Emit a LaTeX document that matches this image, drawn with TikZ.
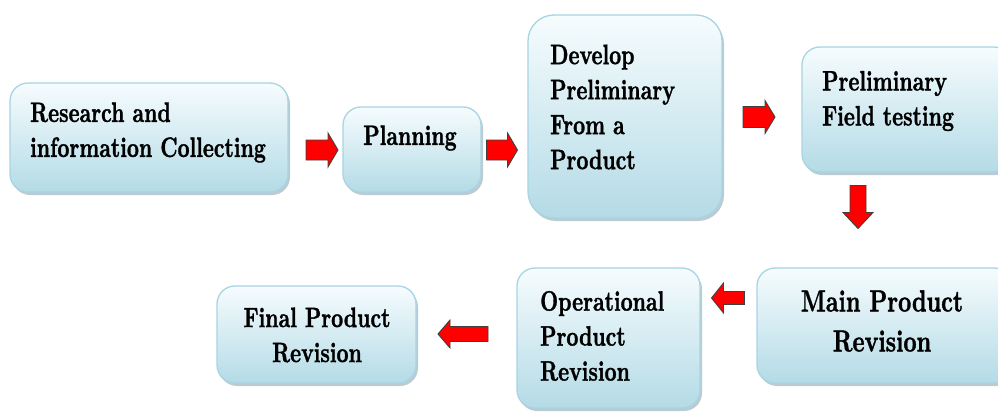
\documentclass[tikz,border=0pt]{standalone}
\usepackage{fontspec}
\newfontfamily\hfont{lmroman10-bold.otf}[FakeBold=1.4]
\usetikzlibrary{shadows}
\tikzset{
  box/.style={draw=boxline, line width=1.3pt, rounded corners=18pt,
    top color=boxtop, bottom color=boxbot, inner sep=0pt,
    drop shadow={shadow xshift=2pt, shadow yshift=-3pt, fill=shadowc, opacity=0.7}},
  txt/.style={font={\hfont\fontsize{28}{35}\selectfont}, inner sep=0pt, text=black,
    xscale=0.745, transform shape},
  bigtxt/.style={font={\hfont\fontsize{30.5}{40}\selectfont}, inner sep=0pt, text=black,
    xscale=0.75, transform shape},
  barrow/.style={fill=arrred, draw=black!75, line width=0.9pt, line join=miter}
}
\definecolor{boxline}{HTML}{A8D4E3}
\definecolor{boxtop}{HTML}{F6FCFE}
\definecolor{boxbot}{HTML}{B4DBE6}
\definecolor{shadowc}{HTML}{9FB5BE}
\definecolor{arrred}{HTML}{FF0000}
% #1 center, #2 rotation, #3 length, #4 shaft, #5 head width, #6 head length
\newcommand\blockarr[6]{%
  \begin{scope}[shift={#1}, rotate=#2]
    \draw[barrow] (-#3/2,-#4/2) -- (#3/2-#6,-#4/2) -- (#3/2-#6,-#5/2) -- (#3/2,0)
      -- (#3/2-#6,#5/2) -- (#3/2-#6,#4/2) -- (-#3/2,#4/2) -- cycle;
  \end{scope}}
\begin{document}
\begin{tikzpicture}[x=1pt, y=-1pt]
\useasboundingbox (0,0) rectangle (998,412);
% boxes
\node[box, minimum width=278pt, minimum height=109pt] (b1) at (149,137.5) {};
\node[box, minimum width=138pt, minimum height=85pt] (b2) at (412,149.5) {};
\node[box, minimum width=194pt, minimum height=203pt, rounded corners=26pt] (b3) at (625,116.5) {};
\node[box, minimum width=210pt, minimum height=125pt] (b4) at (907,109.5) {};
\node[box, minimum width=255pt, minimum height=115pt] (b5) at (884.5,325.5) {};
\node[box, minimum width=183pt, minimum height=140pt] (b6) at (608.5,338) {};
\node[box, minimum width=199pt, minimum height=97pt] (b7) at (316.5,334.5) {};
% texts
\node[txt, align=left, anchor=west] (t1) at (30,132.5) {Research and\\information Collecting};
\node[txt] (t2) at (410,138) {Planning};
\node[txt, align=left, anchor=west] (t3) at (550,107) {Develop\\Preliminary\\From a\\Product};
\node[txt, align=left, anchor=west] (t4) at (822,101) {Preliminary\\Field testing};
\node[bigtxt, align=center] (t5) at (882,321) {Main Product\\Revision};
\node[txt, align=left, anchor=west] (t6) at (540,336) {Operational\\Product\\Revision};
\node[txt, align=center] (t7) at (317,335) {Final Product\\Revision};
% block arrows
\blockarr{(322,150)}{0}{32}{20}{34}{10}
\blockarr{(502,150)}{0}{31}{20}{34}{10}
\blockarr{(759,117)}{0}{32}{21}{33}{10}
\blockarr{(858,207)}{-90}{43}{16}{30}{16}
\blockarr{(728,298)}{180}{33}{13}{30}{12}
\blockarr{(463,334)}{180}{50}{15}{28}{12}
\end{tikzpicture}
\end{document}
